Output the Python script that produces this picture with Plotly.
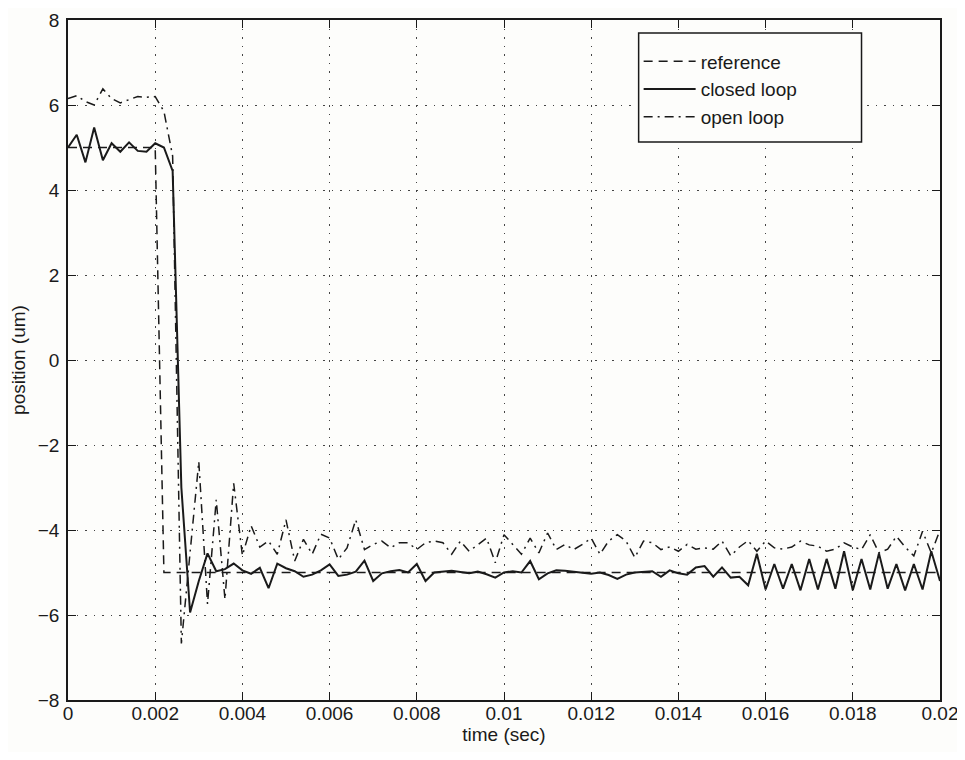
import plotly.graph_objects as go

# ---- data ----
sample_period = 0.0002
n_samples = 101
time_s = [round(i * sample_period, 4) for i in range(n_samples)]

ref_time = [0.0, 0.002, 0.0022, 0.02]
ref_pos = [5.0, 5.0, -5.0, -5.0]

closed_loop = [
    5.0, 5.3, 4.65, 5.47, 4.7, 5.1, 4.9, 5.12, 4.92, 4.9,
    5.1, 5.0, 4.45, -3.0, -5.94, -5.2, -4.55, -4.97, -4.92, -4.79,
    -4.95, -5.03, -4.89, -5.37, -4.79, -4.9, -4.97, -5.1, -5.05, -4.95,
    -4.81, -5.08, -5.05, -4.98, -4.72, -5.2, -5.02, -4.97, -4.94, -5.0,
    -4.8, -5.2, -5.0, -4.98, -4.96, -4.99, -5.02, -4.98, -5.04, -5.12,
    -5.0, -4.97, -5.0, -4.73, -5.16, -5.02, -4.95, -4.96, -4.98, -5.0,
    -5.03, -5.0, -5.06, -5.15, -5.05, -5.0, -4.98, -4.97, -5.1, -4.95,
    -5.02, -5.05, -4.88, -4.85, -5.1, -4.88, -5.12, -5.1, -5.3, -4.56,
    -5.4, -4.8, -5.38, -4.8, -5.42, -4.68, -5.4, -4.68, -5.38, -4.5,
    -5.42, -4.68, -5.4, -4.55, -5.38, -4.8, -5.42, -4.8, -5.4, -4.5,
    -5.2,
]

open_loop = [
    6.15, 6.22, 6.08, 6.0, 6.38, 6.15, 6.05, 6.12, 6.2, 6.18,
    6.2, 5.85, 4.8, -6.67, -4.5, -2.39, -5.74, -3.29, -5.63, -2.9,
    -4.6, -3.9, -4.4, -4.26, -4.57, -3.76, -4.73, -4.22, -4.57, -4.1,
    -4.19, -4.69, -4.42, -3.76, -4.46, -4.34, -4.26, -4.42, -4.3, -4.3,
    -4.46, -4.3, -4.26, -4.3, -4.57, -4.26, -4.5, -4.35, -4.19, -4.77,
    -4.11, -4.34, -4.57, -4.19, -4.54, -4.07, -4.46, -4.34, -4.46, -4.34,
    -4.19, -4.57, -4.26, -4.11, -4.26, -4.65, -4.26, -4.3, -4.46, -4.4,
    -4.5, -4.34, -4.45, -4.42, -4.45, -4.26, -4.61, -4.4, -4.25, -4.5,
    -4.26, -4.42, -4.45, -4.4, -4.26, -4.35, -4.38, -4.5, -4.45, -4.3,
    -4.4, -4.46, -4.11, -4.54, -4.45, -4.15, -4.4, -4.61, -4.03, -4.54,
    -4.0,
]

x_tick_vals = [0, 0.002, 0.004, 0.006, 0.008, 0.01, 0.012, 0.014, 0.016, 0.018, 0.02]
x_tick_text = ["0", "0.002", "0.004", "0.006", "0.008", "0.01", "0.012", "0.014", "0.016", "0.018", "0.02"]
y_tick_vals = [-8, -6, -4, -2, 0, 2, 4, 6, 8]

# ---- figure ----
ink = "#1a1a1a"
bg = "#fdfdfb"
font_family = "Liberation Sans, Arial, Helvetica, sans-serif"

fig = go.Figure()
fig.add_trace(go.Scatter(x=ref_time, y=ref_pos, mode="lines", name="reference",
                         line=dict(color=ink, width=1.5, dash="9px,6px")))
fig.add_trace(go.Scatter(x=time_s, y=closed_loop, mode="lines", name="closed loop",
                         line=dict(color=ink, width=2)))
fig.add_trace(go.Scatter(x=time_s, y=open_loop, mode="lines", name="open loop",
                         line=dict(color=ink, width=1.5, dash="9px,5px,2px,5px")))

axis_common = dict(
    showline=True, linecolor=ink, linewidth=1.5, mirror="ticks",
    ticks="inside", ticklen=8, tickwidth=1, tickcolor=ink,
    showgrid=True, gridcolor="#444444", gridwidth=1, griddash="1.5px,7px",
    zeroline=False, automargin=False, ticklabeloverflow="allow",
    tickfont=dict(size=19, color=ink, family=font_family),
)

fig.update_xaxes(range=[0, 0.02], tickvals=x_tick_vals, ticktext=x_tick_text,
                 ticklabelstandoff=-5,
                 title=dict(text="time (sec)", font=dict(size=19, color=ink, family=font_family), standoff=0),
                 **axis_common)
fig.update_yaxes(range=[-8, 8], tickvals=y_tick_vals, ticklabelstandoff=3,
                 title=dict(text="position (um)", font=dict(size=19, color=ink, family=font_family), standoff=12),
                 **axis_common)

# legend frame drawn as a box (over the traces), legend entries on top of it
fig.add_shape(type="rect", xref="paper", yref="paper",
              x0=0.6544, x1=0.910, y0=0.8206, y1=0.9809,
              line=dict(color=ink, width=1.5), fillcolor=bg, layer="above")

fig.update_layout(
    width=949, height=744,
    margin=dict(l=60, r=16.5, t=12, b=52),
    paper_bgcolor=bg, plot_bgcolor=bg,
    font=dict(family=font_family, size=19, color=ink),
    showlegend=True,
    legend=dict(x=0.6544, y=0.9669, xanchor="left", yanchor="top",
                bgcolor="rgba(0,0,0,0)", borderwidth=0,
                font=dict(size=19, color=ink, family=font_family),
                tracegroupgap=0, itemwidth=52),
)

fig.write_html("out.html")
